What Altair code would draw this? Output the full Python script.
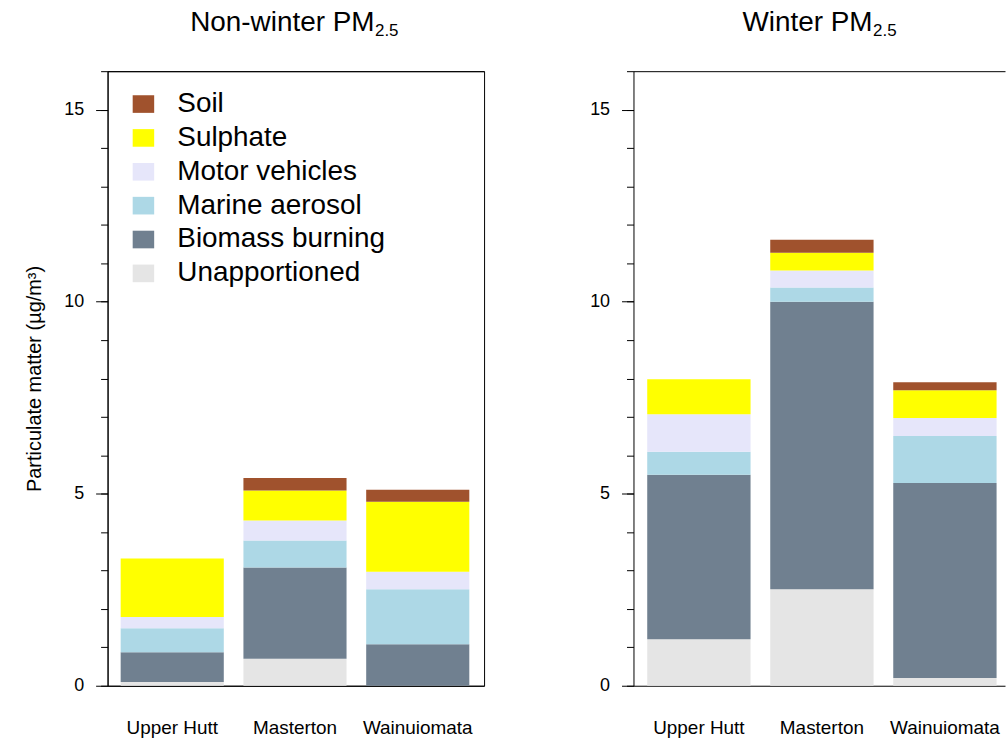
import altair as alt
import pandas as pd

FONT = "Liberation Sans"

sites = ["Upper Hutt", "Masterton", "Wainuiomata"]
# stacking order, bottom to top
sources = ["Unapportioned", "Biomass burning", "Marine aerosol",
           "Motor vehicles", "Sulphate", "Soil"]
source_colors = ["#E5E5E5", "#708090", "#ADD8E6", "#E6E6FA", "#FFFF00", "#A0522D"]

# PM2.5 source contributions (µg/m³) for Upper Hutt, Masterton, Wainuiomata
nonwinter_unapportioned = [0.10, 0.70, 0.00]
nonwinter_biomass = [0.77, 2.38, 1.08]
nonwinter_marine = [0.63, 0.70, 1.43]
nonwinter_motor = [0.29, 0.52, 0.46]
nonwinter_sulphate = [1.52, 0.78, 1.82]
nonwinter_soil = [0.00, 0.33, 0.31]

winter_unapportioned = [1.21, 2.51, 0.20]
winter_biomass = [4.28, 7.49, 5.08]
winter_marine = [0.60, 0.37, 1.22]
winter_motor = [0.98, 0.44, 0.47]
winter_sulphate = [0.91, 0.46, 0.72]
winter_soil = [0.00, 0.34, 0.21]

major_ticks = [0, 5, 10, 15]
minor_ticks = list(range(0, 17))


def long_table(columns):
    rows = []
    for rank, (src, vals) in enumerate(zip(sources, columns)):
        for site, v in zip(sites, vals):
            rows.append({"site": site, "source": src, "value": v, "rank": rank})
    return pd.DataFrame(rows)


nonwinter = long_table([nonwinter_unapportioned, nonwinter_biomass, nonwinter_marine,
                        nonwinter_motor, nonwinter_sulphate, nonwinter_soil])
winter = long_table([winter_unapportioned, winter_biomass, winter_marine,
                     winter_motor, winter_sulphate, winter_soil])

y_scale = alt.Scale(domain=[0, 16], nice=False, zero=True)
color_scale = alt.Scale(domain=sources[::-1], range=source_colors[::-1])

legend = alt.Legend(
    title=None, orient="none", legendX=22, legendY=19, padding=0,
    symbolType="M-1.22,-1H1.22V1H-1.22Z", symbolSize=313, symbolStrokeWidth=0,
    symbolOpacity=1, labelFont=FONT, labelFontSize=28, labelColor="black",
    labelOffset=20, rowPadding=6, labelLimit=0,
)


def panel(df, main_title, title_end_x, width, pad_outer, align, y_title, show_legend):
    x_scale = alt.Scale(paddingInner=0.16, paddingOuter=pad_outer, align=align)

    bars = alt.Chart(df).mark_bar(strokeWidth=0).encode(
        x=alt.X("site:N", sort=sites, scale=x_scale,
                axis=alt.Axis(title=None, labelAngle=0, ticks=False, tickSize=0,
                              labelPadding=33, labelFontSize=19, orient="bottom")),
        y=alt.Y("value:Q", stack="zero", scale=y_scale,
                axis=alt.Axis(values=major_ticks, tickSize=12, labelPadding=12,
                              labelFontSize=18, title=y_title, titleFontSize=20,
                              titlePadding=19, orient="left")),
        color=alt.Color("source:N", scale=color_scale,
                        legend=legend if show_legend else None),
        order=alt.Order("rank:Q", sort="ascending"),
    )

    # minor y ticks and the top border line
    guide_df = pd.DataFrame({"site": sites, "v": [0.0, 0.0, 0.0]})
    guides = alt.Chart(guide_df).mark_point(opacity=0).encode(
        x=alt.X("site:N", sort=sites, scale=x_scale,
                axis=alt.Axis(orient="top", title=None, labels=False, ticks=False)),
        y=alt.Y("v:Q", scale=y_scale,
                axis=alt.Axis(orient="left", values=minor_ticks, tickSize=7,
                              labels=False, domain=False, title=None)),
    )

    title_df = pd.DataFrame({"main": [main_title], "sub": ["2.5"]})
    t_main = alt.Chart(title_df).mark_text(
        align="right", baseline="alphabetic", font=FONT, fontSize=28, color="black"
    ).encode(x=alt.value(title_end_x), y=alt.value(-40.7), text="main:N")
    t_sub = alt.Chart(title_df).mark_text(
        align="left", baseline="alphabetic", font=FONT, fontSize=17, color="black"
    ).encode(x=alt.value(title_end_x + 0.5), y=alt.value(-35.7), text="sub:N")

    return alt.layer(bars, guides, t_main, t_sub).resolve_axis(
        x="independent", y="independent"
    ).properties(width=width, height=617)


left = panel(nonwinter, "Non-winter PM", 268, 378, 0.1135, 0.47,
             "Particulate matter (µg/m³)", True).properties(
    view=alt.ViewBackground(stroke="black", strokeWidth=1))
right = panel(winter, "Winter PM", 240, 373, 0.0901, 0.62, None, False)

chart = alt.hconcat(left, right, spacing=104).resolve_scale(
    color="independent"
).properties(
    padding={"left": 24, "top": 6, "right": 0, "bottom": 0},
    background="white",
).configure_view(
    stroke="transparent"
).configure_axis(
    labelFont=FONT, titleFont=FONT, labelColor="black", titleColor="black",
    domainColor="black", tickColor="black", domainWidth=1, tickWidth=1,
    grid=False, titleFontWeight="normal",
)

chart.save("out.html", embed_options={"renderer": "svg", "actions": False})
